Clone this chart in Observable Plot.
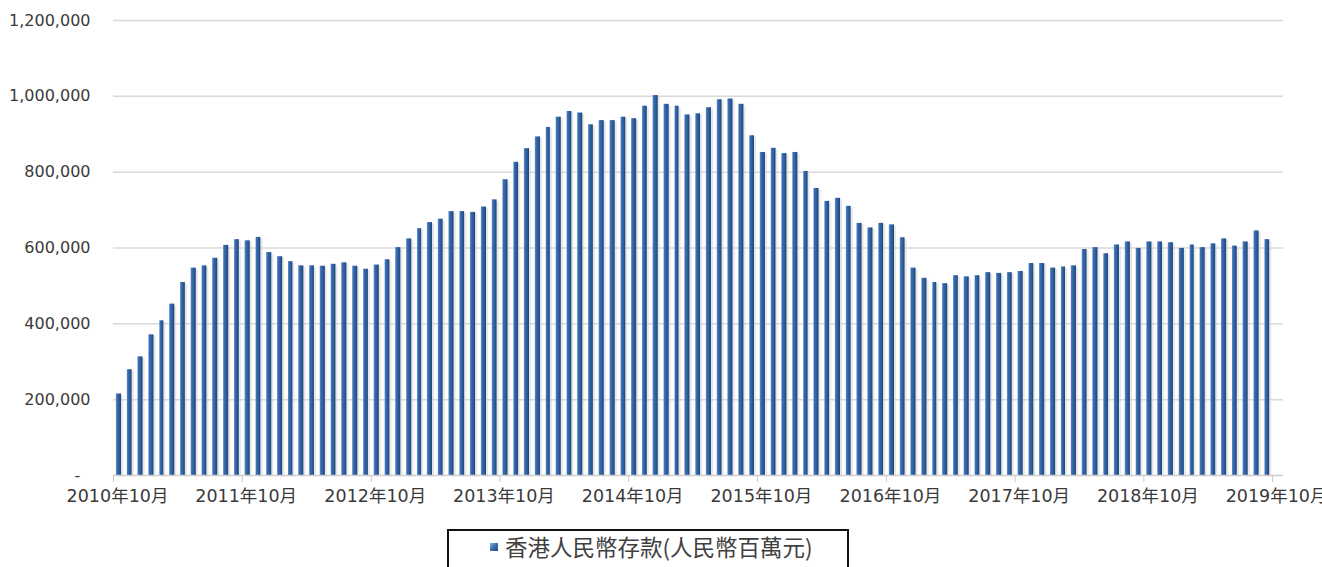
<!DOCTYPE html>
<html>
<head>
<meta charset="utf-8">
<script src="https://cdn.jsdelivr.net/npm/d3@7"></script>
<script src="https://cdn.jsdelivr.net/npm/@observablehq/plot@0.6"></script>
<style>
  html, body { margin: 0; padding: 0; background: white; width: 1322px; height: 567px; overflow: hidden; }
  #chart { position: absolute; left: 0; top: 0; }
  #legend {
    position: absolute; left: 447px; top: 529px; width: 402px; height: 60px;
    border: 2px solid #111; box-sizing: border-box; background: white;
    font-family: "Noto Sans CJK TC", "DejaVu Sans", sans-serif; font-size: 22.5px; color: #404040;
  }
  #legend .sw {
    position: absolute; left: 41px; top: 12px; width: 8px; height: 8px;
    background: linear-gradient(135deg, #8fb4e3 0%, #3f72b4 45%, #1f4a84 100%);
  }
  #legend .tx { position: absolute; left: 56px; top: 0px; white-space: nowrap; line-height: 31px; }
</style>
</head>
<body>
<div id="chart"></div>
<div id="legend"><span class="sw"></span><span class="tx">香港人民幣存款(人民幣百萬元)</span></div>
<script>
// Monthly data, first month = 2010年10月 (HK RMB deposits, RMB millions)
const startYear = 2010;
const startMonth = 10;
const seriesName = "香港人民幣存款(人民幣百萬元)";
const deposits = [
  215000, 279000, 313000, 371000, 408000, 452000, 509000, 547000, 553000, 573000, 607000, 622000,
  619000, 628000, 588000, 577000, 564000, 553000, 553000, 552000, 557000, 561000, 552000, 544000,
  555000, 569000, 601000, 624000, 651000, 667000, 676000, 696000, 696000, 694000, 708000, 727000,
  780000, 826000, 862000, 893000, 918000, 945000, 960000, 956000, 925000, 936000, 936000, 945000,
  941000, 974000, 1002000, 979000, 974000, 951000, 954000, 970000, 991000, 993000, 979000, 896000,
  852000, 863000, 849000, 852000, 802000, 757000, 723000, 731000, 710000, 665000, 653000, 665000,
  661000, 627000, 547000, 520000, 509000, 506000, 527000, 524000, 527000, 535000, 533000, 535000,
  538000, 559000, 559000, 547000, 550000, 553000, 596000, 601000, 585000, 608000, 616000, 599000,
  616000, 616000, 614000, 599000, 608000, 601000, 611000, 624000, 605000, 616000, 645000, 622000
];
const xTickYears = [2010, 2011, 2012, 2013, 2014, 2015, 2016, 2017, 2018, 2019];
const xTickMonth = 10;
const yTicks = [0, 200000, 400000, 600000, 800000, 1000000, 1200000];

const start = new Date(Date.UTC(startYear, startMonth - 1, 1));
const data = deposits.map((v, i) => {
  const d = d3.utcMonth.offset(start, i);
  return { date: d, next: d3.utcMonth.offset(d, 1), value: v };
});
// axis spans one extra (empty) month slot after the last bar
const xEnd = d3.utcMonth.offset(start, deposits.length + 1);
const tickDates = xTickYears.map(y => new Date(Date.UTC(y, xTickMonth - 1, 1)));
const xFmt = d => `${d.getUTCFullYear()}年${d.getUTCMonth() + 1}月`;
const yFmt = d => d === 0 ? "-\u00a0\u00a0" : d3.format(",")(d);

const chart = Plot.plot({
  width: 1322,
  height: 520,
  marginLeft: 113,
  marginRight: 39,
  marginTop: 20,
  marginBottom: 45,
  style: { fontFamily: "'DejaVu Sans', 'Noto Sans CJK TC', sans-serif", fontSize: "16px", color: "#3a3a3a", background: "white" },
  x: { type: "utc", domain: [start, xEnd] },
  y: { domain: [0, 1200000] },
  marks: [
    Plot.gridY({ ticks: yTicks.filter(d => d > 0), stroke: "#d9d9d9", strokeOpacity: 1, strokeWidth: 1.5 }),
    Plot.rectY(data, { x1: "date", x2: "next", y: "value", insetLeft: 5.2, insetRight: 0.8, dy: 1.5, fill: "#d4d4d4", fillOpacity: 0.55 }),
    Plot.rectY(data, { x1: "date", x2: "next", y: "value", insetLeft: 2.9, insetRight: 2.9, fill: "url(#barGrad)" }),
    Plot.ruleY([0], { stroke: "#d0d0d0", strokeWidth: 1.5 }),
    Plot.axisX({ ticks: tickDates, tickSize: 7, tickFormat: () => "", stroke: "#c8c8c8", label: null }),
    Plot.axisX({ ticks: tickDates, tickSize: 0, tickPadding: 14, dx: 4, tickFormat: xFmt, fill: "#3a3a3a", label: null, fontSize: 17.5 }),
    Plot.axisY({ ticks: yTicks, tickSize: 0, tickPadding: 23, tickFormat: yFmt, fill: "#3a3a3a", label: null })
  ]
});

const svg = d3.select(chart);
const defs = svg.insert("defs", ":first-child");
const grad = defs.append("linearGradient").attr("id", "barGrad").attr("x1", 0).attr("x2", 1).attr("y1", 0).attr("y2", 0);
[["0%", "#6e9ad4"], ["22%", "#3b6db0"], ["60%", "#2e5e9e"], ["100%", "#1c4277"]].forEach(([o, c]) =>
  grad.append("stop").attr("offset", o).attr("stop-color", c));

document.getElementById("chart").appendChild(chart);
</script>
</body>
</html>
